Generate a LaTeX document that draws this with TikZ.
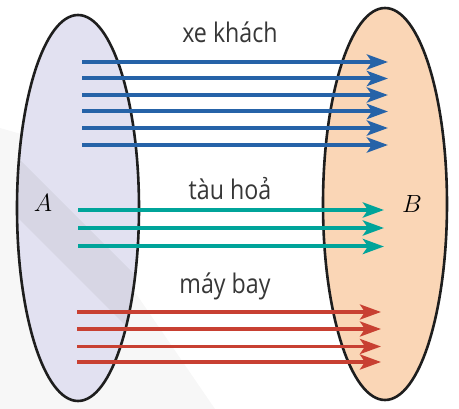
\documentclass[tikz,border=0pt]{standalone}
\usepackage{fontspec}
\newfontfamily\modefont[FakeStretch=0.86]{Open Sans}
\usetikzlibrary{arrows.meta,shapes.geometric}
\definecolor{fillA}{RGB}{226,225,241}
\definecolor{fillB}{RGB}{250,214,182}
\definecolor{rim}{RGB}{30,30,30}
\definecolor{busblue}{RGB}{38,99,168}
\definecolor{trainteal}{RGB}{0,164,154}
\definecolor{planered}{RGB}{200,64,50}
\definecolor{textgray}{RGB}{55,55,55}
\begin{document}
\begin{tikzpicture}[x=1pt,y=-1pt,
    setshape/.style={ellipse, draw=rim, line width=2.6pt, inner sep=0pt},
    flow/.style={line width=4pt, -{Stealth[length=21pt,width=15pt,inset=5pt]}},
    modelabel/.style={font=\modefont\fontsize{27}{30}\selectfont, text=textgray, anchor=base, inner sep=0pt},
    setlabel/.style={font=\fontsize{25}{30}\selectfont, anchor=base, inner sep=0pt}]
  \useasboundingbox (0,0) rectangle (459,409);
  % faint shadow in the background
  \fill[gray!6] (0,128) -- (28,136) -- (215,409) -- (0,409) -- cycle;
  % the two sets
  \node[setshape, fill=fillA, minimum width=122pt, minimum height=386pt] (setA) at (78,208) {};
  \node[setshape, fill=fillB, minimum width=124pt, minimum height=392pt] (setB) at (385,204) {};
  \begin{scope}
    \clip (78,208) ellipse [x radius=60, y radius=192];
    \fill[gray, opacity=0.11] (10,150) -- (150,290) -- (150,350) -- (10,210) -- cycle;
  \end{scope}
  \node[setlabel] (labA) at (43,212) {$A$};
  \node[setlabel] (labB) at (412,213) {$B$};
  % xe khach
  \foreach \y [count=\i] in {62,78.5,95,111.5,128,145} {
    \coordinate (bus-s\i) at (82,\y);
    \coordinate (bus-e\i) at (388,\y);
    \draw[flow, busblue] (bus-s\i) -- (bus-e\i);
  }
  % tau hoa
  \foreach \y [count=\i] in {210,228,246.5} {
    \coordinate (train-s\i) at (78,\y);
    \coordinate (train-e\i) at (384,\y);
    \draw[flow, trainteal] (train-s\i) -- (train-e\i);
  }
  % may bay
  \foreach \y [count=\i] in {312,329,346.5,362} {
    \coordinate (plane-s\i) at (77,\y);
    \coordinate (plane-e\i) at (381,\y);
    \draw[flow, planered, line width=3.6pt] (plane-s\i) -- (plane-e\i);
  }
  \node[modelabel] (bus) at (230,43) {xe khách};
  \node[modelabel] (train) at (230,200) {tàu hoả};
  \node[modelabel] (plane) at (225,294) {máy bay};
\end{tikzpicture}
\end{document}
